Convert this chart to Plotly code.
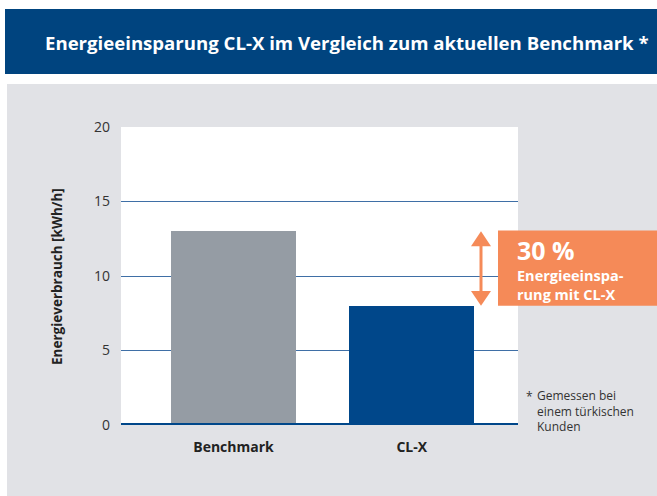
import plotly.graph_objects as go

categories = ["Benchmark", "CL-X"]
values = [13, 8]
bar_colors = ["#959ca4", "#00478a"]
y_ticks = [0, 5, 10, 15, 20]
title_text = "Energieeinsparung CL-X im Vergleich zum aktuellen Benchmark *"
y_title = "Energieverbrauch [kWh/h]"
saving_pct = "30 %"
saving_lines = ["Energieeinspa-", "rung mit CL-X"]
footnote_lines = ["Gemessen bei", "einem türkischen", "Kunden"]

W, H = 657, 496
L, R, T, B = 121, 518, 127, 425

def px(x):
    return (x - L) / (R - L)

def py(y):
    return (B - y) / (B - T)

FONT = "Open Sans"
fig = go.Figure()
fig.add_trace(go.Bar(
    x=[0, 1], y=values, width=0.70,
    marker=dict(color=bar_colors, line=dict(width=0)),
    hoverinfo="skip",
))

shapes = []
shapes.append(dict(type="rect", xref="paper", yref="paper",
                   x0=px(5), x1=px(660), y0=py(9), y1=py(74),
                   fillcolor="#00447f", line=dict(width=0), layer="below"))
shapes.append(dict(type="rect", xref="paper", yref="paper",
                   x0=px(7), x1=px(660), y0=py(84), y1=py(500),
                   fillcolor="#e1e2e6", line=dict(width=0), layer="below"))
shapes.append(dict(type="rect", xref="paper", yref="paper",
                   x0=0, x1=1, y0=0, y1=1,
                   fillcolor="white", line=dict(width=0), layer="below"))

hi, lo = values[0], values[1]
shapes.append(dict(type="rect", xref="paper", yref="y",
                   x0=px(498), x1=px(660), y0=lo, y1=hi + 0.05,
                   fillcolor="#f58a58", line=dict(width=0)))
ax = px(481)
hw = 10 / (R - L)
head = 1.0
shapes.append(dict(type="line", xref="paper", yref="y",
                   x0=ax, x1=ax, y0=lo + head * 0.8, y1=hi - head * 0.8,
                   line=dict(color="#f58a58", width=3)))
shapes.append(dict(type="path", xref="paper", yref="y",
                   path=f"M {ax-hw} {hi-head} L {ax} {hi} L {ax+hw} {hi-head} Z",
                   fillcolor="#f58a58", line=dict(width=0)))
shapes.append(dict(type="path", xref="paper", yref="y",
                   path=f"M {ax-hw} {lo+head} L {ax} {lo} L {ax+hw} {lo+head} Z",
                   fillcolor="#f58a58", line=dict(width=0)))
shapes.append(dict(type="line", xref="paper", yref="y",
                   x0=0, x1=1, y0=0, y1=0,
                   line=dict(color="#00478a", width=4)))

annotations = []
annotations.append(dict(xref="paper", yref="paper", x=px(651), y=py(43),
                        xanchor="right", yanchor="middle", showarrow=False,
                        text=f"<b>{title_text}</b>",
                        font=dict(family=FONT, size=18.6, color="white")))
annotations.append(dict(xref="paper", yref="paper", x=px(57), y=py(277),
                        xanchor="center", yanchor="middle", showarrow=False,
                        textangle=-90, text=f"<b>{y_title}</b>",
                        font=dict(family=FONT, size=13.5, color="#222222")))
annotations.append(dict(xref="paper", yref="paper", x=px(515), y=py(250),
                        xanchor="left", yanchor="middle", showarrow=False,
                        text=f"<b>{saving_pct}</b>",
                        font=dict(family=FONT, size=25, color="white")))
annotations.append(dict(xref="paper", yref="paper", x=px(515), y=py(285),
                        xanchor="left", yanchor="middle", showarrow=False,
                        align="left",
                        text="<b>" + "<br>".join(saving_lines) + "</b>",
                        font=dict(family=FONT, size=14.5, color="white")))
annotations.append(dict(xref="paper", yref="paper", x=px(524), y=py(396),
                        xanchor="left", yanchor="middle", showarrow=False,
                        text="*", font=dict(family=FONT, size=12, color="#333333")))
annotations.append(dict(xref="paper", yref="paper", x=px(535), y=py(411),
                        xanchor="left", yanchor="middle", showarrow=False,
                        align="left", text="<br>".join(footnote_lines),
                        font=dict(family=FONT, size=12, color="#333333")))

fig.update_layout(
    width=W, height=H,
    margin=dict(l=L, r=W - R, t=T, b=H - B, pad=0),
    paper_bgcolor="white", plot_bgcolor="rgba(0,0,0,0)",
    showlegend=False, bargap=0,
    shapes=shapes, annotations=annotations,
    xaxis=dict(range=[-0.631, 1.596], tickvals=[0, 1], ticktext=[f"<b>{c}</b>" for c in categories],
               showgrid=False, zeroline=False, showline=False, ticks="",
               tickfont=dict(family=FONT, size=14, color="#222222"),
               ticklabelstandoff=12, fixedrange=True),
    yaxis=dict(range=[0, 20], tickvals=y_ticks, showgrid=True,
               gridcolor="#3f6fa6", gridwidth=1, zeroline=False, showline=False,
               ticks="", tickfont=dict(family=FONT, size=14, color="#333333"),
               ticklabelstandoff=10, fixedrange=True),
)

fig.write_html("out.html", config={"displayModeBar": False},
               post_script="document.body.style.margin='0';document.body.style.overflow='hidden';")
